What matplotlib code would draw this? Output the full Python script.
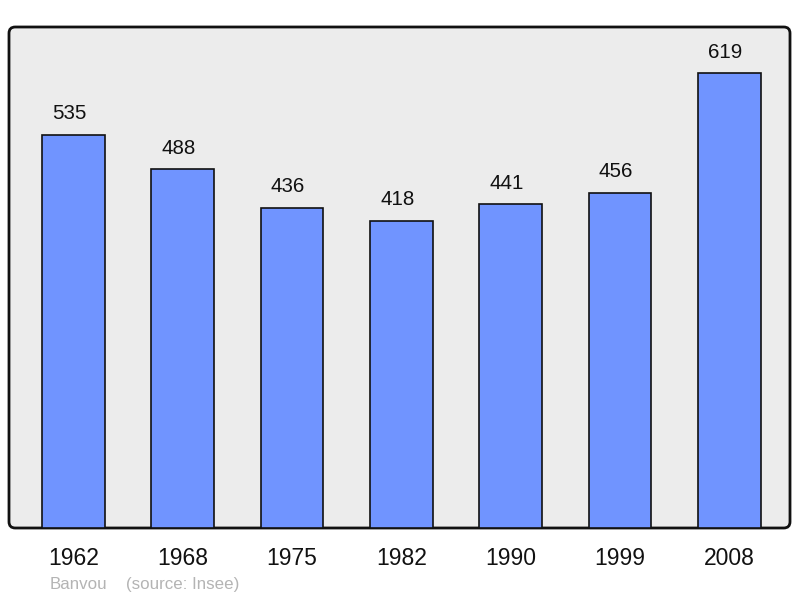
import matplotlib
matplotlib.use("Agg")
import matplotlib.pyplot as plt
from matplotlib.patches import FancyBboxPatch

years = ["1962", "1968", "1975", "1982", "1990", "1999", "2008"]
population = [535, 488, 436, 418, 441, 456, 619]
commune = "Banvou"
source_text = "(source: Insee)"

plt.rcParams['font.family'] = ['Liberation Sans', 'DejaVu Sans']

fig = plt.figure(figsize=(8.0, 5.98), dpi=100)
ax = fig.add_axes([9/800, 1-528/598, 781/800, 501/598])
ax.set_facecolor('none')

frame = FancyBboxPatch((0, 0), 1, 1, boxstyle="round,pad=0,rounding_size=0.008",
                       transform=ax.transAxes, facecolor='#ececec', edgecolor='#111111',
                       linewidth=2.0, clip_on=False, zorder=0, mutation_aspect=781/501)
ax.add_patch(frame)

x = list(range(len(years)))
bars = ax.bar(x, population, width=0.573, color='#7094ff', edgecolor='#111111',
              linewidth=1.2, zorder=2)
for xi, v in zip(x, population):
    ax.annotate(str(v), (xi, v), xytext=(-3, 15), textcoords='offset points',
                ha='center', va='center', fontsize=14.8, color='#111111')

ax.set_xlim(-0.588, 6.554)
ax.set_ylim(0, 681.6)
ax.set_xticks(x)
ax.set_xticklabels(years, fontsize=16.5, color='#111111')
ax.tick_params(axis='x', length=0, pad=14)
ax.set_yticks([])
for s in ax.spines.values():
    s.set_visible(False)

fig.text(50/800, 1-589/598, commune, fontsize=12.2, color='#b4b4b4',
         ha='left', va='baseline')
fig.text(126.5/800, 1-589/598, source_text, fontsize=12.2, color='#b4b4b4',
         ha='left', va='baseline')

fig.savefig("out.png", dpi=100)
